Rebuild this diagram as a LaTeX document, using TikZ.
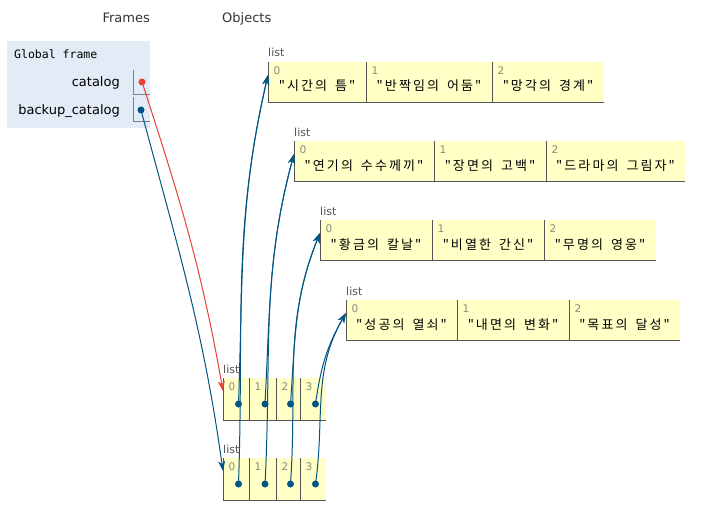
\documentclass[tikz,border=0pt]{standalone}
\usepackage{fontspec}
\setmainfont{DejaVu Sans}
\setmonofont{DejaVu Sans Mono}
\newfontfamily\kofont[LetterSpace=16,WordSpace=1.6]{Noto Sans CJK KR}
\usetikzlibrary{positioning,arrows.meta}

\definecolor{ptrblue}{HTML}{005583}
\definecolor{ptrred}{HTML}{E93F34}
\definecolor{heapyellow}{HTML}{FFFFC6}
\definecolor{framebg}{HTML}{E2EBF6}
\definecolor{eltgray}{HTML}{555555}
\definecolor{idxgray}{HTML}{8A8A80}

\tikzset{
  header/.style={font=\fontsize{13}{13}\selectfont, text=black!80, inner sep=0pt},
  varname/.style={font=\fontsize{13}{13}\selectfont, anchor=base east, inner sep=0pt},
  typelbl/.style={font=\fontsize{11}{11}\selectfont, text=eltgray, anchor=base west, inner sep=0pt},
  idx/.style={font=\fontsize{10.5}{10.5}\selectfont, text=idxgray, anchor=north west, inner sep=0pt, xshift=5.5pt, yshift=-4.5pt},
  elt/.style={fill=heapyellow, inner sep=0pt, outer sep=0pt, minimum height=40pt,
    text height=18pt, text depth=0pt, font=\kofont\fontsize{13}{13}\selectfont,
    label={[idx]north west:#1}},
  smallelt/.style={elt=#1, minimum height=42pt},
  eltline/.style={draw=eltgray, line width=0.9pt},
  valbox/.style={inner sep=0pt, outer sep=0pt, minimum width=17pt, minimum height=24pt, anchor=north west},
  dot/.style={circle, fill=ptrblue, inner sep=0pt, minimum size=7pt},
  ptr/.style={draw=ptrblue, line width=1pt, -{Stealth[length=10pt,width=7pt,inset=3pt]}},
}

\begin{document}
\begin{tikzpicture}[x=1pt,y=1pt]
\fill[white] (0,0) rectangle (701,-532);

% frames
\node[header, anchor=base east] (frames) at (150,-23) {Frames};
\node[header, anchor=base west] (objects) at (222,-23) {Objects};
\node[fill=framebg, inner sep=0pt, minimum width=143pt, minimum height=87pt, anchor=north west] (glob) at (7,-41) {};
\node[font=\ttfamily\fontsize{11.5}{11.5}\selectfont, anchor=base west, inner sep=0pt] (globname) at (14,-59) {Global frame};
\node[varname] (catalog) at (120,-87) {catalog};
\node[varname] (backup) at (120,-115) {backup\_catalog};
\node[valbox] (catval) at (133,-70) {};
\node[valbox] (backval) at (133,-97) {};
\foreach \v in {catval,backval}
  \draw[draw=gray, line width=0.9pt] (\v.north west) |- (\v.south east);
\node[dot, fill=ptrred] (catdot) at (142,-82) {};
\node[dot] (backdot) at (141,-110) {};

% lists of strings
\node[elt=0, minimum width=98pt, anchor=north west] (l1a) at (268,-62) {"시간의 틈"};
\node[elt=1, minimum width=126pt, right=0pt of l1a] (l1b) {"반짝임의 어둠"};
\node[elt=2, minimum width=112pt, right=0pt of l1b] (l1c) {"망각의 경계"};

\node[elt=0, minimum width=140pt, anchor=north west] (l2a) at (294,-141) {"연기의 수수께끼"};
\node[elt=1, minimum width=112pt, right=0pt of l2a] (l2b) {"장면의 고백"};
\node[elt=2, minimum width=139pt, right=0pt of l2b] (l2c) {"드라마의 그림자"};

\node[elt=0, minimum width=112pt, anchor=north west] (l3a) at (320,-220) {"황금의 칼날"};
\node[elt=1, minimum width=112pt, right=0pt of l3a] (l3b) {"비열한 간신"};
\node[elt=2, minimum width=112pt, right=0pt of l3b] (l3c) {"무명의 영웅"};

\node[elt=0, minimum width=111pt, anchor=north west] (l4a) at (346,-300) {"성공의 열쇠"};
\node[elt=1, minimum width=112pt, right=0pt of l4a] (l4b) {"내면의 변화"};
\node[elt=2, minimum width=111pt, right=0pt of l4b] (l4c) {"목표의 달성"};

% outer lists
\node[smallelt=0, minimum width=26pt, anchor=north west] (la0) at (223,-378) {};
\node[smallelt=1, minimum width=27pt, right=0pt of la0] (la1) {};
\node[smallelt=2, minimum width=24pt, right=0pt of la1] (la2) {};
\node[smallelt=3, minimum width=26pt, right=0pt of la2] (la3) {};

\node[smallelt=0, minimum width=26pt, anchor=north west] (lb0) at (223,-458) {};
\node[smallelt=1, minimum width=27pt, right=0pt of lb0] (lb1) {};
\node[smallelt=2, minimum width=24pt, right=0pt of lb1] (lb2) {};
\node[smallelt=3, minimum width=26pt, right=0pt of lb2] (lb3) {};

\foreach \c in {l1a,l1b,l1c,l2a,l2b,l2c,l3a,l3b,l3c,l4a,l4b,l4c,la0,la1,la2,la3,lb0,lb1,lb2,lb3}
  \draw[eltline] (\c.north west) |- (\c.south east);

\foreach \c/\n in {l1a/1,l2a/2,l3a/3,l4a/4,la0/a,lb0/b} {
  \node[typelbl] (type\n) at ([yshift=5pt]\c.north west) {list};
  \coordinate (t\n) at ([yshift=-13pt]\c.north west);
}

\foreach \c in {a0,a1,a2,a3,b0,b1,b2,b3}
  \node[dot] (p\c) at ([xshift=2.5pt,yshift=-5pt]l\c.center) {};

% pointers
\draw[ptr, draw=ptrred] (catdot.center) to[out=-72,in=100] (ta);
\draw[ptr] (backdot.center) to[out=-75,in=98] (tb);
\foreach \s/\t/\o/\i in {a0/t1/88/-103, a1/t2/87/-105, a2/t3/86/-112, a3/t4/82/-120,
                         b0/t1/88/-103, b1/t2/87/-105, b2/t3/86/-112, b3/t4/82/-120}
  \draw[ptr] (p\s.center) to[out=\o,in=\i] (\t);
\end{tikzpicture}
\end{document}
